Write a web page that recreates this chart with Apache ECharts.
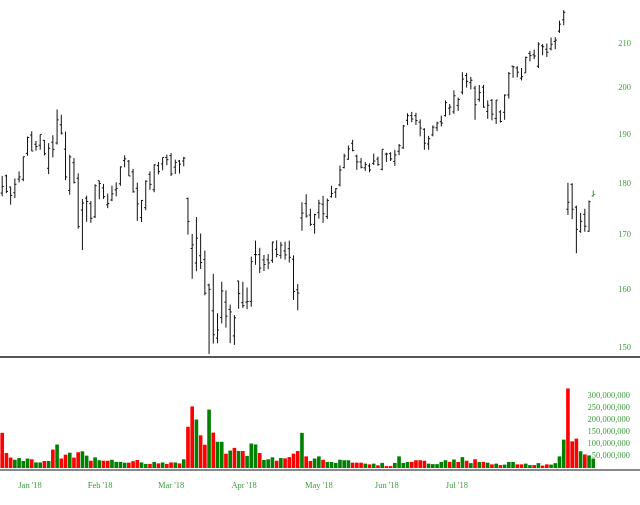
<!DOCTYPE html>
<html><head><meta charset="utf-8">
<script src="https://cdn.jsdelivr.net/npm/echarts@6/dist/echarts.min.js"></script>
<style>html,body{margin:0;padding:0;background:#fff}#c{width:640px;height:505px}</style>
</head><body><div id="c"></div>
<script>
// trading-day index of the first bar (Jan 2, 2018 = 0; first bar = Jan 11, 2018)
const firstIndex = 7;

const opens = [
 188.40,178.06,181.50,179.26,178.13,180.85,180.80,186.05,189.89,187.95,187.75,188.75,183.01,188.37,
 188.22,192.04,186.93,178.57,184.15,181.01,174.76,177.06,176.00,173.45,180.50,179.07,175.77,176.71,178.70,179.90,184.58,184.45,182.30,
 179.01,173.29,175.21,181.78,178.72,183.56,183.91,185.23,185.61,183.24,184.49,184.49,177.01,167.47,164.80,166.13,165.44,160.82,156.31,151.65,155.15,
 157.81,156.55,152.03,161.56,157.73,157.82,157.93,166.34,166.33,165.37,165.39,165.28,167.33,166.20,167.02,167.43,165.50,160.00,173.22,176.00,173.79,
 172.00,174.25,175.88,173.49,177.35,178.25,179.67,183.15,184.85,188.15,185.50,184.30,183.10,183.50,184.00,184.90,182.80,185.90,186.00,184.40,186.50,187.20,
 193.00,194.00,194.00,192.60,191.10,188.00,189.90,191.40,192.70,194.00,195.60,194.80,196.20,199.10,202.80,201.20,200.00,197.50,200.20,194.90,197.30,
 193.40,194.80,194.70,198.50,204.90,204.50,202.20,203.40,207.80,207.50,204.90,209.60,208.80,208.90,210.60,213.00,215.70,174.90,179.80,175.30,170.70,
 173.90,170.70,177.50
];
const highs = [
 188.40,181.48,181.75,179.32,180.98,182.37,185.39,189.55,190.66,188.62,190.00,188.84,188.18,189.83,
 195.32,194.21,190.61,185.77,185.08,181.99,176.90,177.55,176.50,179.81,180.50,179.88,177.95,179.53,180.21,183.39,185.66,184.70,182.88,
 180.12,176.70,180.60,182.39,183.82,184.30,185.23,185.80,186.10,184.77,184.70,185.33,177.17,170.20,173.40,170.27,167.10,161.10,162.85,155.88,161.42,
 159.88,157.39,155.56,161.57,161.42,160.40,165.98,168.94,167.60,166.28,166.43,168.74,168.99,168.69,168.74,168.93,166.20,161.00,176.27,177.84,175.00,
 174.02,176.75,177.50,177.00,179.50,179.04,183.58,186.00,187.67,188.87,185.80,185.10,184.30,184.00,186.00,185.40,186.90,186.20,186.30,186.80,188.00,192.00,
 194.50,194.80,194.60,193.20,191.30,189.70,191.90,192.70,194.00,197.30,196.50,199.50,197.90,203.55,203.40,202.50,200.50,200.70,200.70,197.30,197.60,
 197.40,195.20,198.60,203.60,205.00,204.90,204.50,207.10,208.40,208.70,210.40,210.00,210.10,211.50,211.60,215.50,218.00,180.10,180.00,175.60,174.20,
 175.00,176.60,178.60
];
const lows = [
 187.38,177.40,178.04,175.80,177.08,180.17,180.41,185.55,186.52,186.60,186.81,185.63,181.84,185.22,
 187.89,189.98,180.61,177.74,179.95,171.18,167.18,172.50,172.30,173.21,176.84,176.91,175.11,176.48,177.41,179.51,183.22,181.46,178.14,
 172.66,172.45,174.71,178.70,178.23,181.78,182.60,183.63,181.47,181.86,181.95,183.41,170.06,161.95,163.30,163.72,159.02,149.02,150.75,150.80,154.14,
 153.43,150.81,150.51,156.65,156.81,156.60,157.01,164.47,162.97,163.34,163.68,164.83,165.85,165.58,165.41,164.89,158.20,156.40,170.80,173.30,171.71,
 170.23,173.10,172.30,173.00,177.17,177.11,179.38,183.00,184.75,186.50,182.70,183.00,182.50,182.20,183.70,183.50,182.60,184.30,184.50,183.50,185.70,187.00,
 192.00,192.60,192.00,189.60,186.80,186.80,189.60,190.70,191.70,193.80,194.10,194.40,195.00,198.60,200.10,199.70,193.10,197.00,195.70,193.30,193.00,
 192.20,192.50,193.10,197.70,202.30,202.40,201.70,203.40,206.00,206.50,204.50,207.40,207.00,208.50,208.80,212.60,214.40,173.80,173.00,166.60,170.40,
 170.60,170.60,177.40
];
const closes = [
 187.77,179.37,178.39,177.60,179.80,181.29,185.37,189.35,186.55,187.48,190.00,185.98,187.12,186.89,
 193.09,190.28,181.26,185.31,180.18,171.58,176.11,176.41,173.15,179.52,179.96,177.36,176.01,177.91,178.99,183.29,184.93,181.46,178.32,
 175.94,176.62,180.40,179.78,183.71,182.34,185.23,184.76,181.88,184.19,183.86,185.09,172.56,168.15,169.39,164.89,159.39,160.06,152.22,153.03,159.79,
 155.39,156.11,155.10,159.34,157.20,157.93,165.04,166.32,163.87,164.52,164.83,168.66,166.36,168.10,166.28,165.84,159.70,159.40,174.16,173.59,172.00,
 173.86,176.07,174.02,176.61,177.97,178.92,182.66,185.53,186.99,186.64,184.32,183.20,183.76,182.68,184.49,183.80,186.90,185.93,184.92,185.74,187.67,191.78,
 193.99,193.28,192.94,191.34,188.18,189.10,191.54,192.40,192.41,196.81,195.85,198.31,197.49,202.00,201.50,201.74,196.35,199.00,195.84,196.23,194.32,
 197.36,192.73,198.45,203.23,204.74,203.54,202.54,206.92,207.32,207.23,209.99,209.36,208.09,209.94,210.91,214.67,217.50,176.26,174.89,171.06,172.58,
 171.65,176.37,177.78
];
// volume in millions of shares
const volumesM = [
 40,145,62,43,34,41,29,39,36,23,23,29,29,76,
 97,39,55,63,43,65,69,51,30,44,32,30,30,34,25,25,22,22,28,
 33,23,17,17,25,19,23,17,23,23,19,36,170,254,200,135,96,241,146,108,108,
 59,72,83,70,70,50,101,97,62,33,36,44,30,41,40,45,59,70,145,48,29,
 39,48,34,25,25,21,34,32,32,22,22,22,18,15,18,11,21,8,8,21,48,21,
 25,25,32,32,30,18,16,16,25,32,25,35,25,45,30,20,36,25,25,22,15,
 18,12,14,25,25,15,15,18,12,12,20,10,15,14,20,48,117,328,110,121,69,
 56,52,39
];
const priceTicks = [150,160,170,180,190,200,210];
const volumeTicksMax = 300e6;
const monthLabels = ["Jan '18","Feb '18","Mar '18","Apr '18","May '18","Jun '18","Jul '18"];
const monthLabelPos = [14.6, 31.2, 48.0, 65.3, 83.0, 99.1, 115.7];

const xMin = 7.48, xMax = 7.48 + 640 / 4.222;
const GREEN_TXT = '#3f9f3f';
const FONT = 'Liberation Serif';

const ohlcData = closes.map((c, i) => [firstIndex + i, opens[i], highs[i], lows[i], c]);
const volData = volumesM.map((v, i) => [firstIndex + i, v * 1e6,
  (i === 0 ? closes[0] >= opens[0] : closes[i] >= closes[i - 1]) ? 1 : 0]);
const lastIdx = ohlcData.length - 1;

const chart = echarts.init(document.getElementById('c'), null, {renderer: 'canvas'});
chart.setOption({
  animation: false,
  backgroundColor: '#fff',
  grid: [
    {left: 0, right: 0, top: 0, height: 357},
    {left: 0, right: 0, top: 380, height: 88}
  ],
  xAxis: [
    {gridIndex: 0, type: 'value', min: xMin, max: xMax, position: 'bottom',
     axisLine: {show: true, onZero: false, lineStyle: {color: '#555', width: 2}},
     axisTick: {show: false}, axisLabel: {show: false}, splitLine: {show: false}},
    {gridIndex: 1, type: 'value', min: xMin, max: xMax, position: 'bottom', offset: 2,
     axisLine: {show: true, onZero: false, lineStyle: {color: '#888', width: 2}},
     axisTick: {show: false}, splitLine: {show: false},
     axisLabel: {show: true, customValues: monthLabelPos, margin: 11,
       color: GREEN_TXT, fontFamily: FONT, fontSize: 8.5,
       formatter: v => {
         let best = 0;
         monthLabelPos.forEach((p, k) => { if (Math.abs(p - v) < Math.abs(monthLabelPos[best] - v)) best = k; });
         return monthLabels[best];
       }}}
  ],
  yAxis: [
    {gridIndex: 0, type: 'log', logBase: 10, min: 148.52, max: 220.48,
     axisLine: {show: false}, axisTick: {show: false}, axisLabel: {show: false}, splitLine: {show: false}},
    {gridIndex: 1, type: 'value', min: 0, max: 363e6, interval: 50e6, position: 'right',
     axisLine: {show: false}, axisTick: {show: false}, splitLine: {show: false},
     axisLabel: {inside: true, margin: 10, color: GREEN_TXT, fontFamily: FONT, fontSize: 8.5,
       formatter: v => (v > 0 && v <= volumeTicksMax) ? v.toLocaleString('en-US') : ''}}
  ],
  series: [
    {type: 'custom', name: 'price', xAxisIndex: 0, yAxisIndex: 0, data: ohlcData, clip: true,
     encode: {x: 0, y: [1, 2, 3, 4]},
     renderItem: (params, api) => {
       const x = api.value(0);
       const o = api.coord([x, api.value(1)]);
       const h = api.coord([x, api.value(2)]);
       const l = api.coord([x, api.value(3)]);
       const c = api.coord([x, api.value(4)]);
       const px = h[0];
       const col = params.dataIndex === lastIdx ? '#3c8f3c' : '#111';
       const st = {stroke: col, lineWidth: 1};
       return {type: 'group', children: [
         {type: 'line', shape: {x1: px, y1: h[1], x2: px, y2: l[1]}, style: st},
         {type: 'line', shape: {x1: px - 1.6, y1: o[1], x2: px, y2: o[1]}, style: st},
         {type: 'line', shape: {x1: px, y1: c[1], x2: px + 1.6, y2: c[1]}, style: st}
       ]};
     }},
    {type: 'custom', name: 'priceLabels', xAxisIndex: 0, yAxisIndex: 0,
     data: priceTicks.map(v => [xMax, v]), encode: {x: 0, y: 1}, silent: true,
     renderItem: (params, api) => {
       const p = api.coord([api.value(0), api.value(1)]);
       return {type: 'text', x: p[0] - 9, y: p[1],
         style: {text: String(api.value(1)), fill: GREEN_TXT, font: '8.5px "' + FONT + '"',
           align: 'right', verticalAlign: 'middle', textAlign: 'right', textVerticalAlign: 'middle'}};
     }},
    {type: 'custom', name: 'volume', xAxisIndex: 1, yAxisIndex: 1, data: volData, clip: true,
     encode: {x: 0, y: 1},
     renderItem: (params, api) => {
       const x = api.value(0);
       const a = api.coord([x - 0.43, api.value(1)]);
       const b = api.coord([x + 0.43, 0]);
       return {type: 'rect', shape: {x: a[0], y: a[1], width: b[0] - a[0], height: b[1] - a[1]},
         style: {fill: api.value(2) ? '#008000' : '#ff0000'}};
     }}
  ]
});
</script>
</body></html>
